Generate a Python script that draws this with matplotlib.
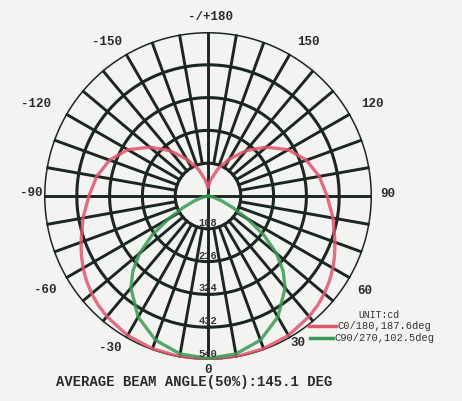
import numpy as np
import matplotlib
matplotlib.use("Agg")
import matplotlib.pyplot as plt
from matplotlib.lines import Line2D

# ---- data (cd), half-plane 0..180 deg, symmetric ----
angles_deg = [0, 10, 20, 30, 40, 45, 50, 55, 60, 65, 70, 80, 90,
              100, 110, 120, 130, 140, 150, 160, 170, 180]
c0_180 = [537, 537, 535, 530, 518, 510, 500, 488, 475, 460, 445, 418, 392,
          372, 345, 305, 250, 195, 140, 95, 55, 30]
c90_270 = [535, 528, 505, 460, 395, 350, 295, 225, 150, 90, 50, 15, 0,
           0, 0, 0, 0, 0, 0, 0, 0, 0]

ring_values = [108, 216, 324, 432, 540]
ring_labels = ["108", "216", "324", "432", "540"]
angle_label_txt = ["0", "30", "60", "90", "120", "150", "-/+180", "-150", "-120", "-90", "-60", "-30"]

legend_labels = ["C0/180,187.6deg", "C90/270,102.5deg"]
unit_text = "UNIT:cd"
footer = "AVERAGE BEAM ANGLE(50%):145.1 DEG"

BG = "#f3f3f1"
GRID = "#1c2621"
RED = "#e0566e"
GREEN = "#3a9a55"
FONT = "Liberation Mono"

W, H = 462, 401
# label pixel positions (x, y from top)
label_px = [(208, 370), (298, 343), (365, 291), (388, 194), (372, 104), (308, 42),
            (210, 17), (107, 42), (36, 104), (31, 193), (45, 290), (110, 348)]

fig = plt.figure(figsize=(W / 100, H / 100), dpi=100, facecolor=BG)
cx, cy, R = 208, 196, 164
ax = fig.add_axes([(cx - R) / W, (H - cy - R) / H, 2 * R / W, 2 * R / H], projection="polar")
ax.set_facecolor("none")
ax.set_theta_zero_location("S")
ax.set_theta_direction(1)
rmax = ring_values[-1]
ax.set_ylim(0, rmax)
ax.grid(False)
ax.set_xticks([])
ax.set_yticks([])
ax.spines["polar"].set_visible(False)

# grid
tt = np.linspace(0, 2 * np.pi, 400)
for rv in ring_values:
    ax.plot(tt, np.full_like(tt, rv), color=GRID, lw=2.2, zorder=2)
for a in range(0, 360, 10):
    th = np.deg2rad(a)
    r0 = 0 if a % 90 == 0 else ring_values[0]
    ax.plot([th, th], [r0, rmax], color=GRID, lw=2.1, zorder=2)

# curves
ang = np.array(angles_deg, dtype=float)
full_ang = np.concatenate([-ang[::-1], ang[1:]])
for vals, col in [(c0_180, RED), (c90_270, GREEN)]:
    v = np.array(vals, dtype=float)
    full_v = np.concatenate([v[::-1], v[1:]])
    ax.plot(np.deg2rad(full_ang), full_v, color=col, lw=2.4, alpha=0.85, zorder=3)

# radial labels
for rv, lab in zip(ring_values, ring_labels):
    ax.text(0, rv - 20, lab, ha="center", va="center", fontsize=7.5, family=FONT,
            fontweight="bold", color="#333333", zorder=4)

# angle labels
for (px, py), lab in zip(label_px, angle_label_txt):
    fig.text(px / W, 1 - py / H, lab, ha="center", va="center", fontsize=9, family=FONT,
             fontweight="bold", color="#2a2a2a")

# legend
fig.text(358 / W, 1 - 315 / H, unit_text, fontsize=7, family=FONT, color="#333333", va="center")
fig.add_artist(Line2D([309 / W, 336 / W], [1 - 326 / H, 1 - 326 / H], color=RED, lw=2.5))
fig.text(337 / W, 1 - 326 / H, legend_labels[0], fontsize=7.5, family=FONT, color="#333333", va="center")
fig.add_artist(Line2D([310 / W, 333 / W], [1 - 338 / H, 1 - 338 / H], color=GREEN, lw=2.5))
fig.text(334 / W, 1 - 338 / H, legend_labels[1], fontsize=7.5, family=FONT, color="#333333", va="center")

fig.text(56 / W, 1 - 382 / H, footer, fontsize=10, family=FONT, fontweight="bold",
         color="#2a2a2a", va="center")

fig.savefig("out.png", dpi=100, facecolor=BG)
